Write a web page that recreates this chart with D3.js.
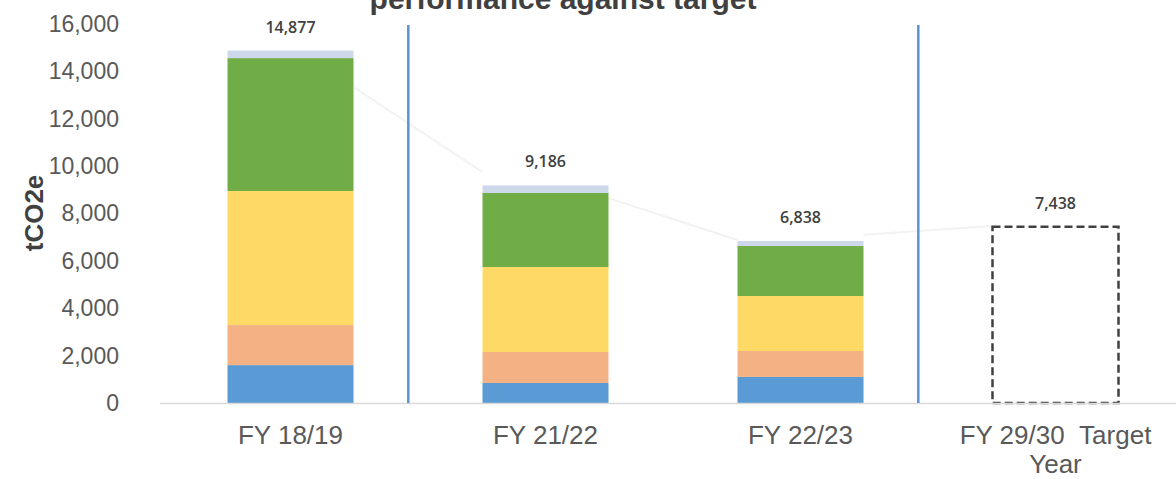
<!DOCTYPE html>
<html>
<head>
<meta charset="utf-8">
<script src="https://cdn.jsdelivr.net/npm/d3@7"></script>
<style>
  body { margin: 0; background: #fff; }
  svg { display: block; }
</style>
</head>
<body>
<div class="chart"></div>
<script>
// values
var categories = ["FY 18/19", "FY 21/22", "FY 22/23", "FY 29/30  Target Year"];
var seriesNames = ["s1", "s2", "s3", "s4", "s5"];
var s1 = [1600, 844, 1100];
var s2 = [1690, 1309, 1095];
var s3 = [5660, 3588, 2322];
var s4 = [5610, 3124, 2110];
var s5 = [317, 321, 211];
var totals = [14877, 9186, 6838];
var target = 7438;
var totalLabels = ["14,877", "9,186", "6,838", "7,438"];
var yTicks = [0, 2000, 4000, 6000, 8000, 10000, 12000, 14000, 16000];
// faint connector between bars (value at right edge of bar i, left edge of bar i+1)
var linkFrom = [13340, 8650, 7100];
var linkTo = [9750, 6880, 7470];

var svgWidth = 1176;
var svgHeight = 479;

var colors = ["#5b9bd5", "#f4b183", "#ffd966", "#70ad47", "#cdd9ea"];
var tickColor = "#595959";
var barWidth = 126;

var $svg = d3.select(".chart")
    .append("svg")
    .attr("width", svgWidth)
    .attr("height", svgHeight);

var xScale = d3.scalePoint()
    .domain(categories)
    .range([163, 1183])
    .padding(0.5);

var step = xScale.step();

var yScale = d3.scaleLinear()
    .domain([0, 16000])
    .range([403, 24]);

// title (cut at the top in the original)
$svg.append("text")
    .attr("x", 563)
    .attr("y", 9)
    .attr("text-anchor", "middle")
    .attr("font-family", "Liberation Sans, Arial, sans-serif")
    .attr("font-weight", "bold")
    .attr("font-size", 30)
    .attr("fill", "#404040")
    .text("performance against target");

// y axis labels
var yAxis = d3.axisLeft(yScale)
    .tickValues(yTicks)
    .tickFormat(d3.format(","))
    .tickSize(0)
    .tickPadding(0);

var $yAxis = $svg.append("g")
    .attr("transform", "translate(119,0)")
    .call(yAxis);
$yAxis.select(".domain").remove();
$yAxis.selectAll("text")
    .attr("font-family", "Liberation Sans, Arial, sans-serif")
    .attr("font-size", 23)
    .attr("fill", tickColor);

$svg.append("text")
    .attr("transform", "translate(43,213) rotate(-90)")
    .attr("text-anchor", "middle")
    .attr("font-family", "Liberation Sans, Arial, sans-serif")
    .attr("font-weight", "bold")
    .attr("font-size", 26)
    .attr("fill", "#404040")
    .text("tCO2e");

// faint connector
$svg.append("g").selectAll("line")
    .data(linkFrom)
    .enter()
    .append("line")
    .attr("x1", (d, i) => xScale(categories[i]) + barWidth / 2)
    .attr("x2", (d, i) => xScale(categories[i + 1]) - barWidth / 2)
    .attr("y1", d => yScale(d))
    .attr("y2", (d, i) => yScale(linkTo[i]))
    .attr("stroke", "#f2f2f2")
    .attr("stroke-width", 2);

// stacked bars
var rows = s1.map((d, i) => ({
    cat: categories[i], s1: s1[i], s2: s2[i], s3: s3[i], s4: s4[i], s5: s5[i]
}));
var stack = d3.stack().keys(seriesNames)(rows);

$svg.append("g").selectAll("g")
    .data(stack)
    .enter()
    .append("g")
    .attr("fill", (d, i) => colors[i])
    .selectAll("rect")
    .data(d => d)
    .enter()
    .append("rect")
    .attr("x", d => xScale(d.data.cat) - barWidth / 2)
    .attr("y", d => yScale(d[1]))
    .attr("width", barWidth)
    .attr("height", d => yScale(d[0]) - yScale(d[1]));

// target box
$svg.append("rect")
    .attr("x", xScale(categories[3]) - barWidth / 2)
    .attr("y", yScale(target))
    .attr("width", barWidth)
    .attr("height", yScale(0) - yScale(target))
    .attr("fill", "none")
    .attr("stroke", "#404040")
    .attr("stroke-width", 2.5)
    .attr("stroke-dasharray", "8,4");

// baseline
$svg.append("line")
    .attr("x1", 160)
    .attr("x2", svgWidth)
    .attr("y1", yScale(0) + 0.5)
    .attr("y2", yScale(0) + 0.5)
    .attr("stroke", "#d9d9d9")
    .attr("stroke-width", 1.5);

// dividers
[0, 2].forEach(i => {
    $svg.append("line")
        .attr("x1", xScale(categories[i]) + step * 0.462)
        .attr("x2", xScale(categories[i]) + step * 0.462)
        .attr("y1", 25)
        .attr("y2", yScale(0))
        .attr("stroke", "#5b93d3")
        .attr("stroke-width", 2.5);
});

// total labels
var allTotals = totals.concat([target]);
$svg.append("g").selectAll("text")
    .data(allTotals)
    .enter()
    .append("text")
    .attr("x", (d, i) => xScale(categories[i]))
    .attr("y", d => yScale(d) - 18)
    .attr("text-anchor", "middle")
    .attr("font-family", "Open Sans, sans-serif")
    .attr("font-weight", 600)
    .attr("font-size", 16)
    .attr("fill", "#404040")
    .text((d, i) => totalLabels[i]);

// x labels
var xLabelLines = [["FY 18/19"], ["FY 21/22"], ["FY 22/23"], ["FY 29/30\u00a0\u00a0Target", "Year"]];
var $xl = $svg.append("g").selectAll("text")
    .data(categories)
    .enter()
    .append("text")
    .attr("x", d => xScale(d))
    .attr("y", 444)
    .attr("text-anchor", "middle")
    .attr("font-family", "Liberation Sans, Arial, sans-serif")
    .attr("font-size", 26)
    .attr("fill", tickColor);

$xl.selectAll("tspan")
    .data((d, i) => xLabelLines[i])
    .enter()
    .append("tspan")
    .attr("x", function () { return d3.select(this.parentNode).attr("x"); })
    .attr("dy", (d, i) => i == 0 ? 0 : 29)
    .text(d => d);
</script>
</body>
</html>
